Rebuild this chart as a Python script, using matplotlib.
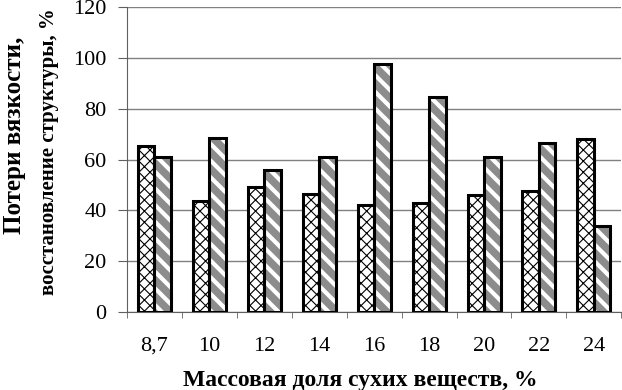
import numpy as np
import matplotlib
matplotlib.use('Agg')
import matplotlib.pyplot as plt

plt.rcParams['font.family'] = ['Liberation Serif', 'DejaVu Serif']

categories = ['8,7', '10', '12', '14', '16', '18', '20', '22', '24']
viscosity_loss = [65.5, 43.5, 49, 46.5, 42, 43, 46, 47.5, 68]
recovery = [61, 68.5, 56, 61, 97.5, 84.5, 61, 66.5, 34]

x = np.arange(len(categories))
w = 0.3

fig = plt.figure(figsize=(6.22, 3.9), dpi=100)
ax = fig.add_axes([0.204, 0.2, 0.795, 0.782])

ax.set_axisbelow(True)
ax.yaxis.grid(True, color='#808080', linewidth=1)

plt.rcParams['hatch.linewidth'] = 0.8
ax.bar(x - w / 2, viscosity_loss, w, facecolor='white', edgecolor='black',
       hatch='xxx', linewidth=0, zorder=2)
ax.bar(x - w / 2, viscosity_loss, w, facecolor='none', edgecolor='black',
       linewidth=2.2, zorder=3)

# grey bars with white stripes
plt.rcParams['hatch.linewidth'] = 3.0
ax.bar(x + w / 2, recovery, w, facecolor='#8c8c8c', edgecolor='white',
       hatch='\\\\', linewidth=0, zorder=2)
ax.bar(x + w / 2, recovery, w, facecolor='none', edgecolor='black',
       linewidth=2.2, zorder=3)

ax.set_xlim(-0.5, len(categories) - 0.5)
ax.set_ylim(0, 120)
ax.set_yticks(np.arange(0, 121, 20))
ax.set_xticks(x)
ax.set_xticklabels(categories)
ax.set_xticks(np.arange(-0.5, len(categories), 1), minor=True)
ax.tick_params(axis='x', which='major', length=0, labelsize=16, pad=18)
ax.tick_params(axis='x', which='minor', length=4.5, color='#606060')
ax.tick_params(axis='y', length=6.5, labelsize=16, color='#606060', pad=8)

for s in ['top', 'right']:
    ax.spines[s].set_visible(False)
ax.spines['left'].set_color('#606060')
ax.spines['bottom'].set_color('#606060')

fig.text(0.58, 0.01, 'Массовая доля сухих веществ, %', ha='center',
         fontsize=17, fontweight='bold')
fig.text(0.024, 0.654, 'Потери вязкости,', rotation=90, ha='center', va='center',
         fontsize=18, fontweight='bold')
fig.text(0.078, 0.61, 'восстановление структуры, %', rotation=90, ha='center',
         va='center', fontsize=15, fontweight='bold')

fig.savefig('out.png', dpi=100)
